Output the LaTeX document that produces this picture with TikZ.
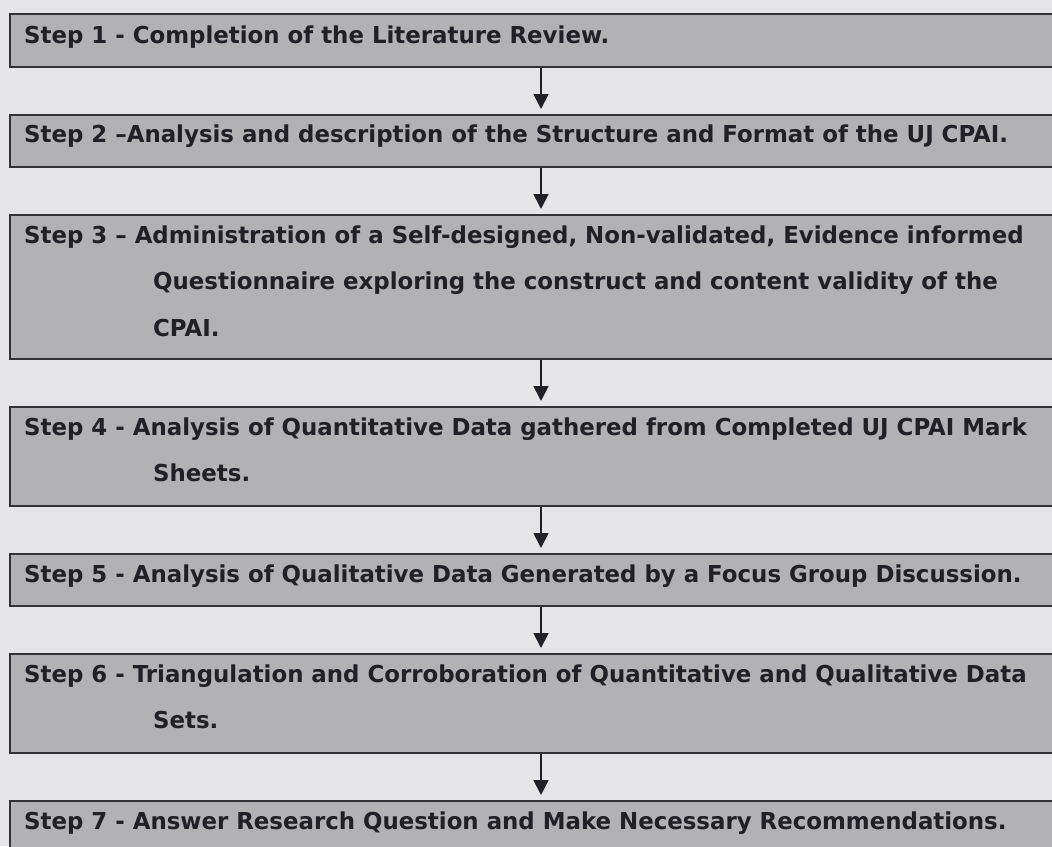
\documentclass[tikz,border=0pt]{standalone}
\usepackage{fontspec}
\setmainfont{DejaVu Sans}[FakeStretch=0.982]
\usetikzlibrary{arrows.meta}
\definecolor{paper}{RGB}{229,229,231}
\definecolor{boxgray}{RGB}{178,178,180}
\definecolor{edgecol}{RGB}{50,50,54}
\definecolor{inkcol}{RGB}{32,32,38}
\begin{document}
\begin{tikzpicture}[x=1pt,y=-1pt,
  stepbox/.style={draw=edgecol, fill=boxgray, line width=1.6pt, rectangle, inner sep=0pt, anchor=north west, minimum width=1070pt},
  steptext/.style={anchor=base west, inner sep=0pt, text=inkcol, font=\bfseries\fontsize{23.3}{46.5}\selectfont},
  flow/.style={draw=inkcol, line width=1.8pt, -{Triangle[width=15pt,length=15pt]}, shorten >=5pt}]
\fill[paper] (0,0) rectangle (1052,846);
\useasboundingbox (0,0) rectangle (1052,846);
\clip (0,0) rectangle (1052,846);
\coordinate (ax) at (541,0);
\node[stepbox, minimum height=53pt] (b1) at (9,13) {};
\node[stepbox, minimum height=52pt] (b2) at (9,114) {};
\node[stepbox, minimum height=144pt] (b3) at (9,214) {};
\node[stepbox, minimum height=99pt] (b4) at (9,406) {};
\node[stepbox, minimum height=52pt] (b5) at (9,553) {};
\node[stepbox, minimum height=99pt] (b6) at (9,653) {};
\node[stepbox, minimum height=70pt] (b7) at (9,800) {};
\node[steptext] (t1) at (24,43) {Step 1 - Completion of the Literature Review.};
\node[steptext] (t2) at (24,142) {Step 2 --Analysis and description of the Structure and Format of the UJ CPAI.};
\node[steptext] (t3) at (24,243) {\parbox[t]{1100pt}{Step 3 -- Administration of a Self-designed, Non-validated, Evidence informed\\\hspace*{129pt}Questionnaire exploring the construct and content validity of the\\\hspace*{129pt}CPAI.}};
\node[steptext] (t4) at (24,435) {\parbox[t]{1100pt}{Step 4 - Analysis of Quantitative Data gathered from Completed UJ CPAI Mark\\\hspace*{129pt}Sheets.}};
\node[steptext] (t5) at (24,582) {Step 5 - Analysis of Qualitative Data Generated by a Focus Group Discussion.};
\node[steptext] (t6) at (24,682) {\parbox[t]{1100pt}{Step 6 - Triangulation and Corroboration of Quantitative and Qualitative Data\\\hspace*{129pt}Sets.}};
\node[steptext] (t7) at (24,829) {Step 7 - Answer Research Question and Make Necessary Recommendations.};
\draw[flow] (b1.south -| ax) -- (b2.north -| ax);
\draw[flow] (b2.south -| ax) -- (b3.north -| ax);
\draw[flow] (b3.south -| ax) -- (b4.north -| ax);
\draw[flow] (b4.south -| ax) -- (b5.north -| ax);
\draw[flow] (b5.south -| ax) -- (b6.north -| ax);
\draw[flow] (b6.south -| ax) -- (b7.north -| ax);
\end{tikzpicture}
\end{document}
